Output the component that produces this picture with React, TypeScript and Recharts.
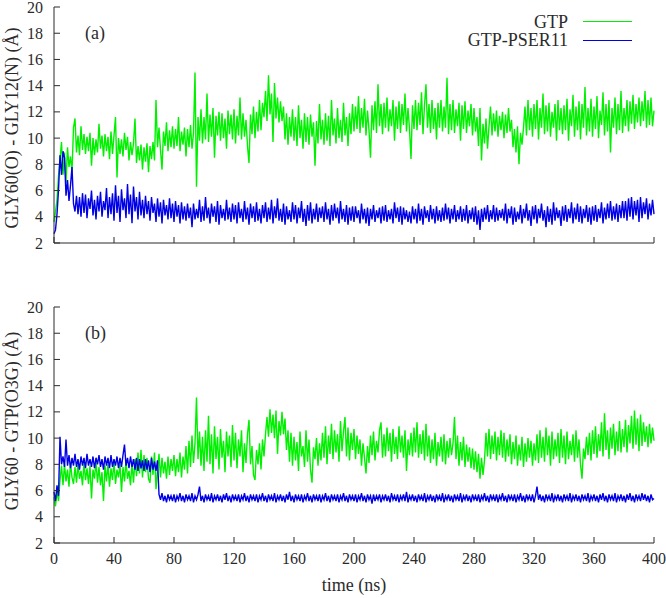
import React from 'react'
import { LineChart, Line, XAxis, YAxis, Legend } from 'recharts'

// (a) GLY60(O) - GLY12(N), one frame per ns, 0..400 ns
const GTP_A = [
  3.6, 4.4, 5.3, 7.1, 8.4, 9.7, 7.2, 8.9, 6.6, 9.3, 7.8, 8.6, 7.4, 10.8, 11.5, 8.9, 10.2, 8.7, 10.9, 9.1,
  10.3, 8.8, 10.1, 9.0, 10.4, 7.9, 10.0, 8.7, 9.9, 8.9, 11.1, 9.2, 10.2, 8.6, 10.3, 9.0, 10.1, 8.4, 10.5, 8.8,
  10.2, 11.6, 7.0, 10.0, 8.8, 9.9, 8.6, 10.4, 9.1, 10.1, 8.3, 9.7, 8.7, 9.6, 11.5, 8.1, 9.4, 8.3, 9.5, 7.6,
  9.3, 8.2, 9.6, 7.4, 9.4, 8.4, 9.7, 8.3, 12.9, 9.3, 10.8, 9.1, 7.6, 10.5, 9.4, 11.2, 9.0, 10.6, 9.3, 10.9,
  9.2, 10.7, 9.4, 11.6, 9.0, 10.5, 9.5, 10.8, 8.6, 10.7, 9.3, 11.0, 9.2, 10.4, 15.0, 6.3, 11.6, 9.8, 12.2, 9.6,
  11.6, 9.9, 13.4, 9.7, 11.8, 10.1, 12.3, 8.5, 11.7, 10.2, 12.0, 9.8, 11.9, 10.0, 11.5, 9.2, 12.1, 10.3, 11.8, 9.9,
  12.2, 9.6, 11.7, 10.2, 13.1, 9.9, 11.9, 10.1, 11.4, 9.4, 8.1, 11.8, 10.3, 12.4, 10.0, 12.0, 10.5, 12.9, 10.6, 12.7,
  11.6, 13.6, 11.3, 14.8, 11.8, 13.4, 9.7, 14.2, 11.5, 13.1, 11.2, 12.8, 11.3, 12.4, 9.9, 11.9, 9.5, 11.6, 10.1, 12.2,
  9.8, 11.6, 9.4, 12.5, 10.0, 11.4, 9.2, 11.9, 9.7, 11.6, 9.5, 11.8, 10.1, 11.2, 7.9, 11.3, 9.6, 12.6, 9.9, 11.4,
  9.5, 11.9, 9.8, 11.7, 9.4, 12.9, 10.2, 11.5, 9.6, 12.3, 10.0, 11.4, 9.7, 12.7, 10.2, 11.6, 9.4, 11.9, 10.3, 12.6,
  10.5, 12.4, 10.7, 13.2, 10.4, 12.3, 10.8, 13.0, 10.2, 12.1, 10.6, 8.5, 12.5, 10.6, 12.8, 10.4, 14.1, 10.9, 12.6, 10.3,
  12.7, 10.8, 13.1, 10.5, 12.2, 10.9, 12.9, 9.8, 12.4, 10.7, 12.8, 10.4, 12.6, 11.0, 13.4, 10.5, 12.3, 10.7, 8.4, 12.5,
  10.7, 12.9, 10.6, 12.7, 11.0, 13.5, 10.3, 12.5, 14.1, 10.8, 12.6, 10.4, 12.9, 10.7, 12.3, 9.9, 12.7, 10.8, 12.9, 10.5,
  12.4, 10.8, 14.6, 10.3, 12.6, 10.6, 12.9, 10.4, 12.2, 10.9, 12.7, 9.8, 12.5, 10.7, 12.8, 10.4, 12.1, 10.9, 12.6, 10.2,
  12.3, 10.5, 11.6, 9.4, 12.3, 8.3, 11.1, 9.6, 11.5, 9.2, 10.9, 12.4, 10.2, 11.9, 10.5, 12.1, 10.1, 11.7, 10.6, 12.0,
  10.0, 11.8, 10.4, 12.3, 10.5, 11.4, 9.3, 10.7, 8.9, 10.9, 8.0, 10.4, 9.5, 10.8, 12.4, 10.2, 12.9, 10.6, 12.3, 10.1,
  12.6, 10.7, 12.9, 9.9, 12.3, 10.8, 13.4, 10.3, 12.5, 10.5, 12.7, 10.1, 12.0, 10.8, 12.6, 9.8, 12.9, 10.6, 12.3, 10.3,
  12.5, 10.6, 13.0, 9.8, 12.2, 10.9, 13.3, 10.1, 12.4, 10.6, 12.8, 9.9, 12.6, 10.8, 13.9, 10.2, 12.3, 10.5, 13.0, 10.1,
  12.4, 10.7, 13.2, 10.0, 12.1, 11.0, 13.5, 10.2, 12.6, 10.5, 12.9, 8.9, 12.3, 10.8, 13.1, 10.3, 12.6, 10.6, 13.6, 10.4,
  12.3, 10.9, 12.9, 10.5, 12.8, 11.1, 13.3, 10.7, 12.6, 11.2, 13.1, 10.9, 12.8, 11.3, 13.6, 10.8, 12.9, 11.0, 13.1, 10.9,
  12.1,
]

const PSER_A = [
  2.7, 3.0, 4.2, 6.0, 8.7, 7.2, 9.0, 8.5, 5.6, 6.8, 5.2, 6.4, 7.8, 5.0, 4.4, 5.6, 4.2, 5.5, 4.0, 5.8,
  4.3, 5.7, 3.9, 5.4, 4.6, 6.0, 4.1, 5.3, 3.8, 5.6, 4.4, 5.9, 4.0, 5.2, 4.5, 6.2, 3.9, 5.5, 4.2, 5.8,
  3.7, 6.4, 4.3, 5.6, 3.6, 6.1, 4.5, 5.4, 3.9, 6.5, 4.2, 5.7, 3.5, 6.3, 4.4, 5.5, 3.8, 5.9, 4.1, 5.3,
  3.9, 5.6, 4.2, 5.2, 3.7, 5.5, 4.3, 5.0, 3.6, 5.4, 4.0, 5.1, 3.5, 5.3, 4.1, 4.9, 3.8, 5.4, 3.9, 5.0,
  3.6, 5.2, 4.0, 4.9, 3.5, 5.1, 3.8, 4.8, 3.7, 5.0, 3.9, 4.7, 3.2, 5.0, 3.8, 4.6, 3.9, 5.3, 3.6, 4.8,
  3.7, 5.5, 3.9, 4.7, 3.5, 5.0, 4.0, 4.8, 3.6, 5.2, 3.4, 4.9, 3.9, 4.6, 3.7, 5.3, 3.8, 4.7, 3.6, 5.0,
  3.8, 4.9, 3.5, 5.1, 3.9, 4.6, 3.6, 5.2, 3.8, 4.7, 3.4, 5.0, 3.9, 4.8, 3.6, 5.1, 3.7, 4.6, 3.5, 4.9,
  3.9, 5.1, 3.6, 4.7, 3.8, 5.3, 3.5, 4.8, 3.9, 5.4, 3.7, 4.6, 3.6, 5.0, 3.4, 4.8, 3.8, 4.5, 3.6, 5.1,
  3.8, 4.9, 3.5, 4.7, 3.9, 5.2, 3.6, 4.6, 3.3, 4.9, 3.7, 5.1, 3.5, 4.6, 3.8, 5.0, 3.6, 4.7, 3.9, 4.8,
  3.6, 5.1, 3.8, 4.6, 3.4, 4.9, 3.7, 5.0, 3.9, 4.7, 3.5, 5.2, 3.8, 4.6, 3.6, 4.9, 3.4, 4.7, 3.7, 4.8,
  3.6, 4.8, 3.9, 4.5, 3.5, 5.0, 3.8, 4.6, 3.5, 4.7, 3.3, 4.6, 3.8, 4.9, 3.6, 4.5, 3.9, 4.7, 3.5, 4.8,
  3.7, 4.9, 3.6, 4.5, 3.8, 4.6, 3.5, 5.1, 3.9, 4.7, 3.6, 4.8, 3.4, 4.7, 3.8, 4.5, 3.6, 4.4, 3.5, 4.8,
  3.8, 4.6, 3.5, 5.0, 3.7, 4.6, 3.4, 4.8, 3.9, 4.5, 3.6, 4.9, 3.8, 4.6, 3.5, 4.8, 3.7, 4.5, 3.6, 4.7,
  3.7, 5.0, 3.8, 4.7, 3.5, 4.6, 3.8, 4.9, 3.6, 4.5, 3.8, 4.8, 3.6, 4.6, 3.7, 4.9, 3.5, 4.5, 3.8, 4.7,
  3.6, 4.8, 3.4, 4.5, 3.0, 4.6, 3.6, 4.7, 3.8, 4.9, 3.6, 4.5, 3.8, 4.9, 3.6, 4.7, 3.7, 4.5, 3.9, 4.6,
  3.7, 5.0, 3.5, 4.6, 3.9, 4.8, 3.4, 4.7, 3.6, 4.4, 3.8, 4.9, 3.5, 4.6, 3.9, 5.0, 3.7, 4.5, 3.3, 4.8,
  3.8, 4.9, 3.5, 4.6, 3.9, 5.0, 3.7, 4.5, 3.2, 4.8, 3.6, 4.6, 3.4, 5.1, 3.7, 4.7, 3.9, 4.5, 3.3, 4.8,
  3.7, 4.9, 3.6, 4.6, 3.9, 5.1, 3.5, 4.7, 3.8, 5.0, 3.6, 4.8, 3.5, 4.6, 3.9, 4.9, 3.6, 4.7, 3.4, 4.8,
  3.7, 4.9, 3.6, 4.6, 3.9, 5.1, 3.5, 4.7, 3.8, 5.0, 3.9, 5.2, 3.7, 4.8, 3.8, 5.0, 3.6, 4.9, 3.9, 5.2,
  3.9, 5.2, 3.7, 5.4, 4.0, 5.5, 3.8, 5.2, 4.1, 5.3, 3.6, 5.5, 3.9, 5.1, 4.2, 5.4, 3.8, 5.0, 4.1, 5.3,
  4.2,
]

// (b) GLY60 - GTP(O3G)
const GTP_B = [
  5.5, 4.8, 6.0, 5.2, 6.8, 7.9, 6.4, 8.0, 6.7, 7.6, 6.3, 8.1, 7.0, 6.5, 7.8, 6.6, 8.0, 6.9, 7.5, 6.4,
  8.1, 6.8, 7.7, 6.5, 7.9, 5.4, 7.6, 6.9, 8.2, 6.6, 7.8, 6.4, 7.4, 5.2, 7.9, 6.7, 8.0, 6.3, 7.7, 6.8,
  8.2, 6.5, 7.6, 7.0, 8.0, 5.9, 7.8, 6.7, 8.3, 6.9, 7.5, 6.4, 8.1, 6.6, 8.4, 7.1, 8.9, 7.3, 9.1, 7.0,
  8.7, 7.4, 8.5, 6.9, 6.6, 8.6, 7.2, 8.9, 6.1, 7.6, 8.8, 7.0, 8.5, 7.3, 8.2, 6.9, 8.6, 7.2, 8.4, 7.5,
  8.7, 7.1, 8.4, 7.4, 8.9, 7.0, 8.6, 7.6, 9.4, 7.3, 9.8, 7.8, 10.2, 8.1, 9.6, 13.1, 8.4, 10.5, 7.9, 10.1,
  7.5, 10.6, 8.2, 11.7, 8.0, 10.3, 7.3, 10.9, 8.4, 10.1, 7.6, 10.7, 8.5, 9.8, 7.4, 10.5, 8.6, 10.2, 7.8, 11.0,
  8.3, 10.4, 7.7, 9.9, 8.6, 10.6, 7.4, 9.6, 8.1, 10.3, 11.4, 8.0, 9.4, 7.2, 6.8, 9.1, 8.0, 9.6, 7.6, 9.9,
  8.6, 10.3, 11.6, 10.1, 12.2, 10.4, 11.8, 10.0, 12.1, 8.8, 11.3, 10.2, 12.0, 10.3, 11.5, 9.1, 10.6, 8.2, 10.4, 7.9,
  10.1, 8.3, 9.7, 7.5, 10.5, 8.6, 9.4, 7.8, 10.6, 8.2, 9.9, 7.6, 6.6, 9.3, 8.4, 10.0, 7.9, 9.6, 8.3, 10.4,
  8.5, 10.9, 8.0, 10.2, 8.8, 11.1, 8.4, 10.6, 8.9, 10.3, 8.2, 11.3, 9.0, 10.5, 11.6, 8.6, 10.8, 8.3, 10.4, 9.1,
  10.7, 8.4, 10.2, 8.8, 9.9, 7.9, 9.6, 8.5, 7.3, 9.4, 8.1, 10.2, 8.7, 10.5, 8.3, 9.8, 8.9, 10.6, 11.2, 8.5,
  10.3, 8.6, 10.8, 9.0, 10.4, 8.2, 10.7, 8.8, 10.1, 8.4, 10.9, 8.9, 10.2, 8.5, 10.6, 7.5, 9.9, 8.7, 10.4, 8.6,
  10.8, 8.9, 11.2, 8.5, 10.3, 8.8, 10.6, 8.3, 11.1, 8.6, 10.2, 8.1, 9.9, 8.4, 10.4, 7.9, 9.7, 8.6, 10.1, 8.2,
  10.3, 8.0, 9.8, 8.5, 10.0, 8.7, 9.6, 11.6, 8.4, 10.2, 7.9, 9.7, 8.3, 10.1, 7.8, 9.5, 8.2, 9.3, 7.7, 9.2,
  7.6, 9.0, 7.4, 8.8, 6.9, 8.5, 7.2, 8.3, 10.4, 8.6, 10.7, 8.4, 10.2, 8.8, 10.5, 8.3, 10.1, 8.7, 10.6, 8.5,
  10.4, 8.2, 9.9, 8.6, 10.3, 8.0, 9.7, 8.4, 10.2, 7.9, 9.5, 8.3, 10.1, 7.8, 9.6, 8.2, 10.0, 8.5, 9.8, 7.9,
  9.6, 8.3, 10.3, 8.1, 10.6, 8.5, 10.1, 8.2, 10.8, 8.7, 10.2, 7.9, 10.5, 8.4, 9.9, 8.6, 10.4, 8.1, 10.7, 8.5,
  10.2, 8.0, 10.5, 8.4, 9.8, 8.7, 10.3, 8.2, 10.6, 8.5, 9.9, 8.0, 6.9, 9.2, 8.4, 10.1, 8.7, 10.4, 8.3, 10.6,
  8.8, 10.9, 8.5, 10.3, 9.0, 11.2, 8.6, 11.9, 9.1, 10.6, 8.4, 10.8, 9.2, 11.1, 8.7, 10.5, 9.0, 11.3, 8.9, 10.7,
  9.3, 11.4, 8.9, 11.0, 9.6, 11.7, 9.2, 12.1, 9.5, 11.5, 9.0, 11.8, 9.4, 11.2, 9.7, 10.9, 9.3, 11.1, 9.6, 10.8,
  9.8,
]

const PSER_B = [
  5.9, 5.2, 6.4, 5.6, 10.1, 8.0, 8.6, 7.8, 9.9, 7.9, 8.7, 7.7, 8.5, 7.9, 8.8, 7.8, 8.4, 7.6, 8.6, 7.9,
  8.5, 7.7, 8.8, 7.9, 8.4, 7.8, 8.6, 7.7, 8.5, 8.0, 8.7, 7.8, 8.4, 7.6, 8.6, 7.9, 8.5, 7.7, 8.7, 7.8,
  8.4, 7.9, 8.6, 7.7, 8.5, 7.8, 8.7, 9.5, 7.9, 8.5, 7.7, 8.6, 7.8, 8.4, 7.6, 8.5, 7.5, 8.4, 7.7, 8.3,
  7.5, 8.4, 7.6, 8.3, 7.4, 8.5, 7.6, 8.2, 7.5, 8.3, 5.7, 5.3, 5.8, 5.2, 5.6, 5.1, 5.7, 5.3, 5.6, 5.2,
  5.7, 5.1, 5.6, 5.3, 5.8, 5.2, 5.6, 5.1, 5.7, 5.3, 5.6, 5.2, 5.8, 5.1, 5.6, 5.3, 5.7, 6.3, 5.2, 5.6,
  5.1, 5.7, 5.3, 5.6, 5.2, 5.8, 5.1, 5.6, 5.3, 5.7, 5.2, 5.6, 5.1, 5.7, 5.3, 5.8, 5.2, 5.6, 5.1, 5.7,
  5.3, 5.6, 5.2, 5.7, 5.1, 5.6, 5.3, 5.8, 5.2, 5.6, 5.1, 5.7, 5.3, 5.6, 5.2, 5.7, 5.1, 5.6, 5.3, 5.8,
  5.2, 5.6, 5.1, 5.7, 5.3, 5.6, 5.2, 5.8, 5.1, 5.6, 5.3, 5.7, 5.2, 5.6, 5.1, 5.7, 5.3, 5.9, 5.2, 5.6,
  5.1, 5.7, 5.3, 5.6, 5.2, 5.7, 5.1, 5.6, 5.3, 5.8, 5.2, 5.6, 5.1, 5.7, 5.3, 5.6, 5.2, 5.7, 5.1, 5.6,
  5.3, 5.8, 5.2, 5.6, 5.1, 5.7, 5.3, 5.6, 5.2, 5.7, 5.1, 5.6, 5.3, 5.8, 5.2, 5.6, 5.1, 5.7, 5.3, 5.6,
  5.2, 5.7, 5.1, 5.6, 5.3, 5.8, 5.2, 5.6, 5.1, 5.7, 5.3, 5.6, 5.0, 5.7, 5.2, 5.6, 5.3, 5.7, 5.1, 5.6,
  5.3, 5.7, 5.2, 5.6, 5.1, 5.8, 5.3, 5.6, 5.2, 5.7, 5.1, 5.6, 5.3, 5.7, 5.2, 5.9, 5.1, 5.6, 5.3, 5.7,
  5.2, 5.6, 5.1, 5.7, 5.3, 5.6, 5.2, 5.8, 5.1, 5.6, 5.3, 5.7, 5.2, 5.6, 5.1, 5.7, 5.3, 5.6, 5.2, 5.8,
  5.1, 5.6, 5.3, 5.7, 5.2, 5.6, 5.1, 5.7, 5.3, 5.6, 5.2, 5.8, 5.1, 5.6, 5.3, 5.7, 5.2, 5.6, 5.1, 5.7,
  5.3, 5.6, 5.2, 5.7, 5.1, 5.6, 5.3, 5.8, 5.2, 5.6, 5.1, 5.7, 5.3, 5.6, 5.2, 5.7, 5.1, 5.6, 5.3, 5.8,
  5.2, 5.6, 5.1, 5.7, 5.3, 5.6, 5.2, 5.7, 5.1, 5.6, 5.3, 5.8, 5.2, 5.6, 5.1, 5.7, 5.3, 5.6, 5.2, 5.7,
  5.1, 5.6, 6.3, 5.3, 5.7, 5.2, 5.6, 5.1, 5.7, 5.3, 5.6, 5.2, 5.8, 5.1, 5.6, 5.3, 5.7, 5.2, 5.6, 5.1,
  5.7, 5.3, 5.6, 5.2, 5.8, 5.1, 5.6, 5.3, 5.7, 5.2, 5.6, 5.1, 5.7, 5.3, 5.6, 5.2, 5.8, 5.1, 5.6, 5.3,
  5.7, 5.2, 5.6, 5.1, 5.7, 5.3, 5.8, 5.2, 5.6, 5.1, 5.7, 5.3, 5.6, 5.2, 5.8, 5.1, 5.6, 5.3, 5.7, 5.2,
  5.6, 5.1, 5.7, 5.3, 5.8, 5.2, 5.6, 5.1, 5.7, 5.3, 5.6, 5.2, 5.8, 5.3, 5.7, 5.2, 5.6, 5.1, 5.7, 5.3,
  5.4,
]

// time grid: one frame per ns
const TIME = GTP_A.map((_, i) => i)

const X_TICKS = [0, 40, 80, 120, 160, 200, 240, 280, 320, 360, 400]
const Y_TICKS = [2, 4, 6, 8, 10, 12, 14, 16, 18, 20]

const FONT = "'Liberation Serif', 'DejaVu Serif', 'Times New Roman', Times, serif"
const INK = '#2b2b2b'
const GREEN = '#00f000'
const BLUE = '#0000e6'
const TICK = 6
const LINE_W = 1.4

const dataA = TIME.map((t, i) => ({ t, gtp: GTP_A[i], pser: PSER_A[i] }))
const dataB = TIME.map((t, i) => ({ t, gtp: GTP_B[i], pser: PSER_B[i] }))

// gnuplot style ticks: marks point into the plot
const BottomTick = (showLabel: boolean) => (props: any) => {
  const { x, y, payload } = props
  return (
    <g>
      <line x1={x} y1={y} x2={x} y2={y - TICK} stroke={INK} />
      {showLabel && (
        <text x={x} y={y + 21} textAnchor="middle" style={{ fontFamily: FONT }} fontSize={16} fill={INK}>
          {payload.value}
        </text>
      )}
    </g>
  )
}

const TopTick = (props: any) => (
  <line x1={props.x} y1={props.y} x2={props.x} y2={props.y + TICK} stroke={INK} />
)

const LeftTick = (props: any) => {
  const { x, y, payload } = props
  return (
    <g>
      <line x1={x} y1={y} x2={x + TICK} y2={y} stroke={INK} />
      <text x={x - 11} y={y + 5.5} textAnchor="end" style={{ fontFamily: FONT }} fontSize={16} fill={INK}>
        {payload.value}
      </text>
    </g>
  )
}

const RightTick = (props: any) => (
  <line x1={props.x} y1={props.y} x2={props.x - TICK} y2={props.y} stroke={INK} />
)

const yTitle = (text: string, shift: number) => (props: any) => {
  const vb = props.viewBox
  const cx = vb.x + 18
  const cy = vb.y + vb.height / 2 + shift
  return (
    <text x={cx} y={cy} transform={`rotate(-90 ${cx} ${cy})`} textAnchor="middle"
      style={{ fontFamily: FONT }} fontSize={18} fill={INK}>
      {text}
    </text>
  )
}

const LegendBox = () => (
  <div style={{ fontFamily: FONT, fontSize: 18, lineHeight: '18.5px', color: INK }}>
    {[{ name: 'GTP', color: GREEN }, { name: 'GTP-PSER11', color: BLUE }].map((s) => (
      <div key={s.name} style={{ display: 'flex', justifyContent: 'flex-end', alignItems: 'center', height: 18.5 }}>
        <span>{s.name}</span>
        <span style={{ display: 'inline-block', width: 49, height: 1, background: s.color, marginLeft: 15 }} />
      </div>
    ))}
  </div>
)

const Panel = ({ data, height, tag, title, titleShift, showX, legend }: any) => (
  <div style={{ position: 'relative', width: 666, height }}>
    <LineChart width={666} height={height} data={data} margin={{ top: 7, right: 12, bottom: 0, left: 0 }}>
      <XAxis dataKey="t" type="number" domain={[0, 400]} ticks={X_TICKS} interval={0}
        height={height - 243} tickSize={0} tickMargin={0} axisLine={{ stroke: INK }}
        tick={BottomTick(showX)}
        label={showX ? { value: 'time (ns)', position: 'insideBottom', offset: 7, style: { fontFamily: FONT }, fontSize: 18, fill: INK } : undefined} />
      <XAxis xAxisId="top" orientation="top" dataKey="t" type="number" domain={[0, 400]} ticks={X_TICKS}
        interval={0} height={0} tickSize={0} tickMargin={0} axisLine={{ stroke: INK }} tick={TopTick} />
      <YAxis type="number" domain={[2, 20]} ticks={Y_TICKS} interval={0} width={54}
        tickSize={0} tickMargin={0} axisLine={{ stroke: INK }} tick={LeftTick}
        label={{ value: title, content: yTitle(title, titleShift) }} />
      <YAxis yAxisId="right" orientation="right" type="number" domain={[2, 20]} ticks={Y_TICKS}
        interval={0} width={0} tickSize={0} tickMargin={0} axisLine={{ stroke: INK }} tick={RightTick} />
      <Line type="linear" dataKey="gtp" name="GTP" stroke={GREEN} strokeWidth={LINE_W} dot={false} isAnimationActive={false} />
      <Line type="linear" dataKey="pser" name="GTP-PSER11" stroke={BLUE} strokeWidth={LINE_W} dot={false} isAnimationActive={false} />
      {legend && (
        <Legend layout="horizontal" verticalAlign="middle" align="center" content={LegendBox}
          wrapperStyle={{ top: 12.5, left: 400, width: 232 }} />
      )}
    </LineChart>
    <div style={{ position: 'absolute', left: 85, top: 24, fontFamily: FONT, fontSize: 18, lineHeight: '18px', color: INK }}>
      {tag}
    </div>
  </div>
)

export default function App() {
  return (
    <div style={{ position: 'absolute', left: 0, top: 0, width: 666, height: 598, background: '#fff' }}>
      <Panel data={dataA} height={300} tag="(a)" title="GLY60(O) - GLY12(N) (Å)" titleShift={3} showX={false} legend />
      <Panel data={dataB} height={298} tag="(b)" title="GLY60 - GTP(O3G) (Å)" titleShift={-4} showX legend={false} />
    </div>
  )
}
